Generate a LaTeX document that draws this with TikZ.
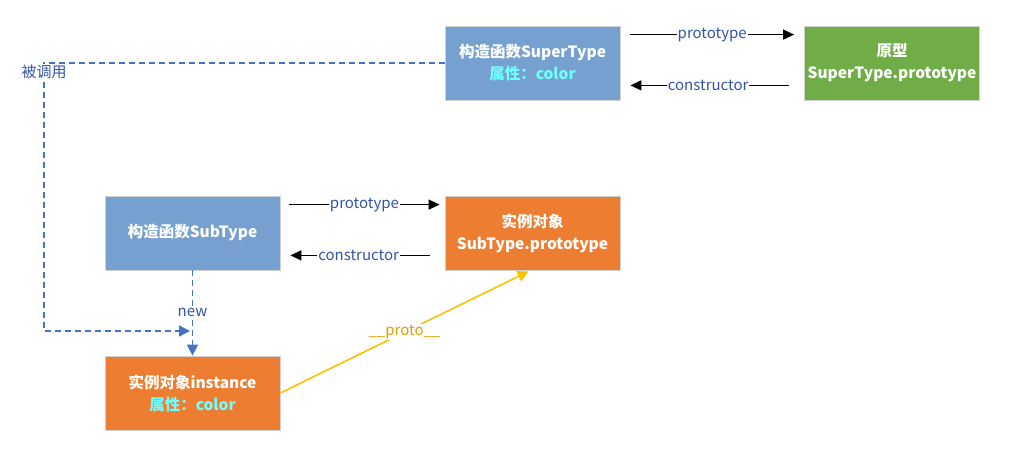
\documentclass[tikz,border=0pt]{standalone}
\usepackage{fontspec}
\setmainfont{Noto Sans CJK SC}
\usetikzlibrary{arrows.meta,calc}
\definecolor{boxblue}{HTML}{75A0CF}
\definecolor{boxgreen}{HTML}{70AD47}
\definecolor{boxorange}{HTML}{ED7D31}
\definecolor{attrcyan}{HTML}{6FFFFF}
\definecolor{lblblue}{HTML}{3356A3}
\definecolor{dashblue}{HTML}{4472C4}
\definecolor{protoline}{HTML}{FFC000}
\definecolor{prototext}{HTML}{D9A300}
\begin{document}
\begin{tikzpicture}[x=1pt,y=-1pt,
  box/.style={minimum width=175pt,minimum height=74pt,draw=black!18,line width=0.8pt,
    text=white,font=\fontsize{15.5}{22}\selectfont\bfseries,align=center,inner sep=2pt},
  arr/.style={line width=1.4pt,-{Triangle[length=11pt,width=10pt]}},
  lbl/.style={font=\fontsize{15}{17}\selectfont,text=lblblue,fill=white,inner sep=1pt},
  dsh/.style={dashblue,line width=1.4pt,dash pattern=on 6pt off 4pt},
  dtip/.style={-{Triangle[length=11pt,width=11pt]}}
]
\useasboundingbox (0,0) rectangle (1019,450);
\node[box,fill=boxblue] (sup) at (532.5,63) {构造函数SuperType\\{\color{attrcyan}属性：color}};
\node[box,fill=boxgreen] (pro) at (892,63) {原型\\SuperType.prototype};
\node[box,fill=boxblue] (sub) at (192.5,233) {构造函数SubType};
\node[box,fill=boxorange] (subp) at (532.5,233) {实例对象\\SubType.prototype};
\node[box,fill=boxorange] (inst) at (192.5,393) {实例对象instance\\{\color{attrcyan}属性：color}};

% top arrows
\coordinate (a1) at ($(sup.north east)+(10,9)$);
\coordinate (a2) at ($(pro.north west)+(-10,9)$);
\draw[arr] (a1) -- node[lbl] {prototype} (a2);
\coordinate (b1) at ($(pro.south west)+(-15,-15)$);
\coordinate (b2) at ($(sup.south east)+(10,-15)$);
\draw[arr] (b1) -- node[lbl,pos=0.51] {constructor} (b2);

% middle arrows
\coordinate (c1) at ($(sub.north east)+(9,9)$);
\coordinate (c2) at ($(subp.north west)+(-5,9)$);
\draw[arr] (c1) -- node[lbl] {prototype} (c2);
\coordinate (d1) at ($(subp.south west)+(-15,-15)$);
\coordinate (d2) at ($(sub.south east)+(10,-15)$);
\draw[arr] (d1) -- node[lbl,pos=0.51] {constructor} (d2);

% dashed call path
\coordinate (k1) at (44,63);
\coordinate (k2) at (44,331);
\coordinate (k3) at (190,331);
\draw[dsh,dtip] (sup.west) -- (k1) -- (k2) -- (k3);
\node[lbl] (call) at (44,72) {被调用};

% new
\draw[dsh,dtip] (sub.south) -- node[lbl,pos=0.49] {new} (inst.north);

% proto
\coordinate (p2) at ($(subp.south)+(-4,1)$);
\draw[protoline,line width=1.6pt,-{Triangle[length=11pt,width=11pt]}] (inst.east) -- node[font=\fontsize{15}{17}\selectfont,text=prototext,fill=white,inner sep=1pt] {\_\_proto\_\_} (p2);
\end{tikzpicture}
\end{document}
